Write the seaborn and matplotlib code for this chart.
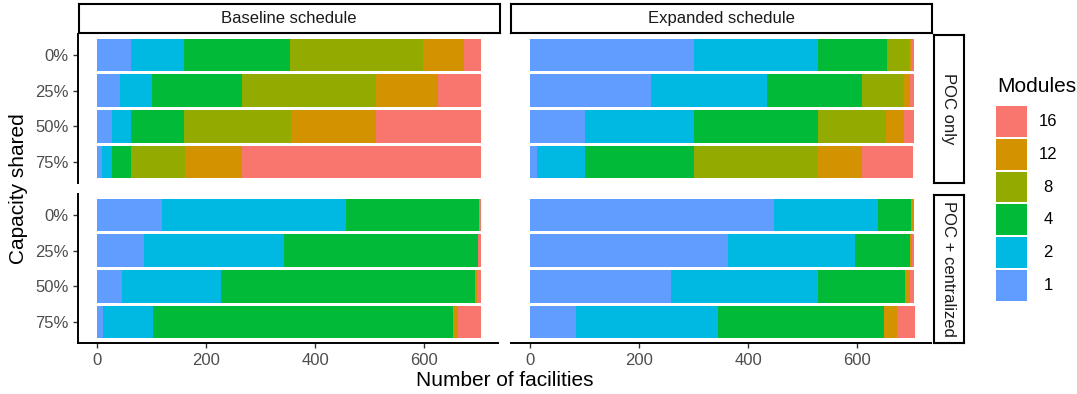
import matplotlib
matplotlib.use("Agg")
import numpy as np
import pandas as pd
import seaborn as sns
import matplotlib.pyplot as plt
from matplotlib.patches import Rectangle

# ---- data -------------------------------------------------------------
categories = ["0%", "25%", "50%", "75%"]
modules = ["1", "2", "4", "8", "12", "16"]
module_colors = ["#619CFF", "#00B9E3", "#00BA38", "#93AA00", "#D39200", "#F8766D"]
schedules = ["Baseline schedule", "Expanded schedule"]
settings = ["POC only", "POC + centralized"]

# facilities per module size (rows: 1, 2, 4, 8, 12, 16; columns: share levels)
baseline_poc_only = [
    [62, 42, 27, 9],
    [97, 59, 35, 18],
    [194, 165, 97, 35],
    [244, 245, 196, 99],
    [75, 114, 156, 104],
    [31, 79, 192, 438],
]
expanded_poc_only = [
    [301, 221, 100, 12],
    [227, 214, 201, 88],
    [126, 174, 227, 201],
    [40, 77, 124, 227],
    [5, 11, 33, 80],
    [4, 7, 18, 94],
]
baseline_poc_central = [
    [119, 86, 46, 11],
    [337, 256, 181, 92],
    [245, 357, 465, 549],
    [0, 0, 0, 0],
    [0, 0, 4, 9],
    [2, 4, 7, 42],
]
expanded_poc_central = [
    [448, 362, 259, 84],
    [190, 234, 269, 260],
    [60, 101, 159, 304],
    [0, 0, 0, 0],
    [5, 4, 9, 24],
    [1, 3, 7, 33],
]

panel_counts = {
    ("Baseline schedule", "POC only"): baseline_poc_only,
    ("Expanded schedule", "POC only"): expanded_poc_only,
    ("Baseline schedule", "POC + centralized"): baseline_poc_central,
    ("Expanded schedule", "POC + centralized"): expanded_poc_central,
}

rows = []
for (sched, sett), counts in panel_counts.items():
    arr = np.array(counts)
    cum = arr.cumsum(axis=0)
    for i, m in enumerate(modules):
        for j, c in enumerate(categories):
            rows.append(dict(schedule=sched, setting=sett, module=m, share=c,
                             count=arr[i, j], cum=cum[i, j]))
df = pd.DataFrame(rows)

# ---- style ------------------------------------------------------------
sns.set_style("white")
plt.rcParams["font.family"] = ["Liberation Sans", "DejaVu Sans"]

W, H = 1077, 394
fig = plt.figure(figsize=(W / 100, H / 100), dpi=100)


def px_axes(x0, y0, x1, y1):
    return fig.add_axes([x0 / W, 1 - y1 / H, (x1 - x0) / W, (y1 - y0) / H])


TICK_COLOR = "#4D4D4D"
col_x = [(78, 498), (511, 931)]
row_y = [(33.6, 183.4), (193.6, 343.4)]
palette = dict(zip(modules, module_colors))

for r, sett in enumerate(settings):
    for c, sched in enumerate(schedules):
        x0, x1 = col_x[c]
        y0, y1 = row_y[r]
        ax = px_axes(x0, y0, x1, y1)
        sub = df[(df.schedule == sched) & (df.setting == sett)]
        # stacked look: draw cumulative totals from the largest module down
        for m in modules[::-1]:
            part = sub[sub.module == m]
            sns.barplot(data=part, x="cum", y="share", order=categories,
                        orient="h", color=palette[m], saturation=1,
                        errorbar=None, width=0.92, linewidth=0, ax=ax)
        ax.set_xlim(-35, 735)
        ax.set_ylim(3.6, -0.6)
        ax.set_xlabel("")
        ax.set_ylabel("")
        ax.set_xticks([0, 200, 400, 600])
        for s in ax.spines.values():
            s.set_visible(False)
        ax.tick_params(axis="both", direction="out", length=3.4, width=1.0,
                       color="#333333", labelsize=12, labelcolor=TICK_COLOR,
                       pad=3.4)
        if c == 0:
            ax.spines["left"].set_visible(True)
            ax.spines["left"].set_color("black")
            ax.spines["left"].set_linewidth(1.4)
            ax.tick_params(axis="y", left=True, labelleft=True)
        else:
            ax.tick_params(axis="y", left=False, labelleft=False)
        if r == 1:
            ax.spines["bottom"].set_visible(True)
            ax.spines["bottom"].set_color("black")
            ax.spines["bottom"].set_linewidth(1.4)
            ax.tick_params(axis="x", bottom=True, labelbottom=True)
        else:
            ax.tick_params(axis="x", bottom=False, labelbottom=False)

# ---- facet strips -----------------------------------------------------
def strip(x0, y0, x1, y1, label, rotation=0):
    sax = px_axes(x0, y0, x1, y1)
    sax.set_xticks([])
    sax.set_yticks([])
    sax.set_facecolor("white")
    for s in sax.spines.values():
        s.set_visible(True)
        s.set_color("black")
        s.set_linewidth(1.5)
    sax.text(0.5, 0.5, label, ha="center", va="center", rotation=rotation,
             fontsize=12, color="#1A1A1A", transform=sax.transAxes)


strip(78.5, 3.5, 499.5, 33, schedules[0])
strip(511, 3.5, 931.5, 33, schedules[1])
strip(933.5, 35, 964, 182.5, settings[0], rotation=-90)
strip(933.5, 194.5, 964, 343, settings[1], rotation=-90)

# ---- axis titles ------------------------------------------------------
fig.text(505 / W, 1 - 381 / H, "Number of facilities", ha="center",
         va="center", fontsize=15, color="black")
fig.text(19 / W, 1 - 189 / H, "Capacity shared", ha="center", va="center",
         rotation=90, fontsize=15, color="black")

# ---- legend -----------------------------------------------------------
fig.text(997 / W, 1 - 86 / H, "Modules", ha="left", va="center",
         fontsize=15, color="black")
key_top = 106
for k, (m, col) in enumerate(zip(modules[::-1], module_colors[::-1])):
    top = key_top + k * 32.8
    fig.add_artist(Rectangle((996 / W, 1 - (top + 30.8) / H), 30.8 / W,
                             30.8 / H, transform=fig.transFigure,
                             facecolor=col, edgecolor="none"))
    fig.text(1048 / W, 1 - (top + 15.4) / H, m, ha="center", va="center",
             fontsize=12, color="black")

fig.savefig("out.png", dpi=100, facecolor="white")
